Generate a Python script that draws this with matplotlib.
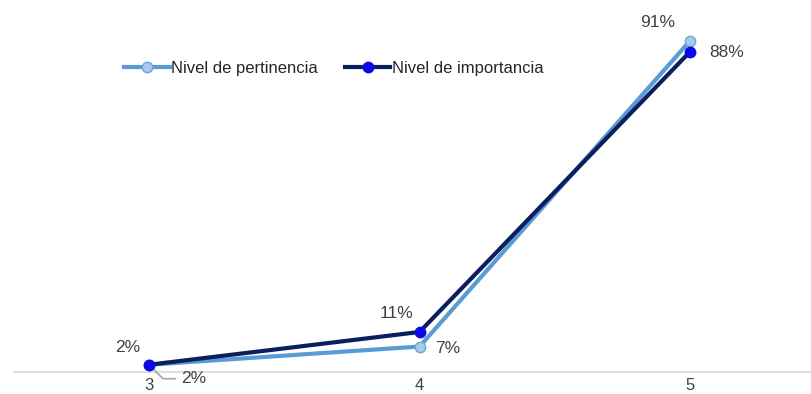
import matplotlib.pyplot as plt

plt.rcParams["font.family"] = ["Liberation Sans", "DejaVu Sans"]

categories = [3, 4, 5]
pertinencia = [2, 7, 91]
importancia = [2, 11, 88]
series_names = ["Nivel de pertinencia", "Nivel de importancia"]

# label offsets in pixels (dx, dy) for each point
pert_offsets = [(44, -14), (28, -2), (-32, 18)]
imp_offsets = [(-21, 17), (-23, 18), (37, -1)]

fig = plt.figure(figsize=(8.11, 3.94), dpi=100)
ax = fig.add_axes([0, 0, 1, 1])

ax.plot(categories, pertinencia, color="#5B9BD5", linewidth=3, marker="o",
        markersize=7.5, markerfacecolor="#A9CBEB", markeredgecolor="#6FA6DA",
        markeredgewidth=1, label=series_names[0], zorder=3)
ax.plot(categories, importancia, color="#0B1F5E", linewidth=3, marker="o",
        markersize=7.5, markerfacecolor="#0A0AE8", markeredgecolor="#0A0AE8",
        label=series_names[1], zorder=4)

for i, (x, y) in enumerate(zip(categories, pertinencia)):
    dx, dy = pert_offsets[i]
    if i == 0:
        # leader line from the label back to the point
        ax.annotate(f"{y}%", (x, y), xytext=(dx - 12, dy),
                    textcoords="offset pixels", ha="left", va="center",
                    fontsize=12.5, color="#404040",
                    arrowprops=dict(arrowstyle="-", color="#A6A6A6", lw=1.2,
                                    shrinkA=2, shrinkB=4,
                                    connectionstyle="angle,angleA=0,angleB=-45,rad=0"))
    else:
        ax.annotate(f"{y}%", (x, y), xytext=(dx, dy), textcoords="offset pixels",
                    ha="center", va="center", fontsize=12.5, color="#404040")

for i, (x, y) in enumerate(zip(categories, importancia)):
    dx, dy = imp_offsets[i]
    ax.annotate(f"{y}%", (x, y), xytext=(dx, dy), textcoords="offset pixels",
                ha="center", va="center", fontsize=12.5, color="#404040")

ax.set_xlim(2.449, 5.447)
ax.set_ylim(-6.04, 102.2)
ax.set_xticks(categories)
ax.set_xticklabels([str(c) for c in categories])
ax.tick_params(axis="x", length=0, pad=4, labelsize=12, labelcolor="#404040")
ax.set_yticks([])

for side in ["top", "right", "left"]:
    ax.spines[side].set_visible(False)
ax.spines["bottom"].set_position(("data", 0))
ax.spines["bottom"].set_color("#D9D9D9")
ax.spines["bottom"].set_linewidth(1.2)
ax.spines["bottom"].set_bounds(2.5, 5.6)
ax.spines["bottom"].set_zorder(1)

fig.legend(loc="center left", bbox_to_anchor=(0.134, 0.827), ncol=2,
           frameon=False, fontsize=12, handlelength=2.75, handletextpad=0.1,
           columnspacing=1.6, labelcolor="#262626")

fig.savefig("out.png", dpi=100)
